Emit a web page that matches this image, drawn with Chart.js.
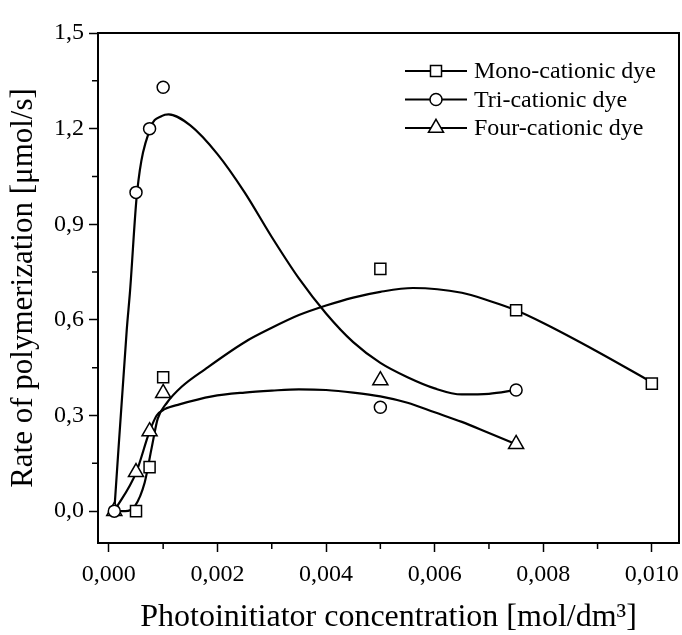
<!DOCTYPE html>
<html>
<head>
<meta charset="utf-8">
<script src="https://cdn.jsdelivr.net/npm/chart.js@4.4.1/dist/chart.umd.min.js"></script>
<style>
  html, body { margin: 0; padding: 0; background: #fff; overflow: hidden; }
  canvas { display: block; }
</style>
</head>
<body>
<canvas id="rateChart" width="682" height="635"></canvas>
<script>
// measured points
const monoX = [0.0005, 0.00075, 0.001, 0.005, 0.0075, 0.010];
const monoY = [0.0, 0.138, 0.42, 0.76, 0.63, 0.40];
const triX = [0.0001, 0.0005, 0.00075, 0.001, 0.005, 0.0075];
const triY = [0.0, 1.0, 1.2, 1.33, 0.326, 0.38];
const fourX = [0.0001, 0.0005, 0.00075, 0.001, 0.005, 0.0075];
const fourY = [0.0, 0.122, 0.25, 0.37, 0.41, 0.21];

// fitted curves
const monoFitX = [0.0001, 0.0003, 0.00048, 0.00066, 0.00079, 0.0009, 0.00107, 0.00134, 0.00177, 0.0025, 0.003, 0.0035, 0.004, 0.0045, 0.005, 0.0056, 0.0065, 0.007, 0.0075, 0.008, 0.009, 0.010];
const monoFitY = [0.0, 0.0, 0.016, 0.09, 0.20, 0.29, 0.34, 0.39, 0.445, 0.53, 0.575, 0.615, 0.645, 0.67, 0.688, 0.70, 0.685, 0.66, 0.63, 0.59, 0.50, 0.404];
const triFitX = [0.0001, 0.00033, 0.00039, 0.00052, 0.00076, 0.00098, 0.0011, 0.0015, 0.002, 0.0025, 0.003, 0.0035, 0.004, 0.0045, 0.005, 0.0055, 0.006, 0.0065, 0.007, 0.0075];
const triFitY = [0.0, 0.57, 0.69, 1.0, 1.2, 1.24, 1.245, 1.21, 1.12, 1.0, 0.86, 0.73, 0.62, 0.53, 0.465, 0.42, 0.385, 0.366, 0.368, 0.38];
const fourFitX = [0.0001, 0.0005, 0.00075, 0.00088, 0.00103, 0.0013, 0.0019, 0.0025, 0.003, 0.0035, 0.004, 0.0045, 0.005, 0.0055, 0.006, 0.0065, 0.007, 0.0075];
const fourFitY = [0.0, 0.12, 0.25, 0.30, 0.32, 0.335, 0.36, 0.372, 0.378, 0.382, 0.38, 0.372, 0.36, 0.34, 0.31, 0.28, 0.245, 0.21];

// axes
const xTicks = [0.000, 0.002, 0.004, 0.006, 0.008, 0.010];
const xMinor = [0.001, 0.003, 0.005, 0.007, 0.009];
const yTicks = [0.0, 0.3, 0.6, 0.9, 1.2, 1.5];
const yMinor = [0.15, 0.45, 0.75, 1.05, 1.35];

const seriesNames = ["Mono-cationic dye", "Tri-cationic dye", "Four-cationic dye"];

const FONT = "'Liberation Serif', 'Times New Roman', serif";

function toPoints(xs, ys) {
    return xs.map((x, i) => ({ x: x, y: ys[i] }));
}

function markerSet(label, xs, ys, style, radius) {
    return {
        label: label,
        data: toPoints(xs, ys),
        showLine: false,
        pointStyle: style,
        pointRadius: radius,
        pointBackgroundColor: "#fff",
        pointBorderColor: "#000",
        pointBorderWidth: 1.5,
        legendItem: true,
        order: 0
    };
}

function curveSet(xs, ys) {
    return {
        data: toPoints(xs, ys),
        showLine: true,
        borderColor: "#000",
        borderWidth: 2.2,
        pointRadius: 0,
        cubicInterpolationMode: "monotone",
        order: 1
    };
}

const comma = (v, d) => v.toFixed(d).replace(".", ",");

const framePlugin = {
    id: "frame",
    afterDraw(chart) {
        const ctx = chart.ctx;
        const a = chart.chartArea;
        const xs = chart.scales.x;
        const ys = chart.scales.y;
        ctx.save();
        ctx.strokeStyle = "#000";
        ctx.lineWidth = 2;
        ctx.strokeRect(a.left, a.top, a.right - a.left, a.bottom - a.top);

        // minor ticks
        ctx.lineWidth = 1.5;
        ctx.beginPath();
        xMinor.forEach(v => {
            const px = xs.getPixelForValue(v);
            ctx.moveTo(px, a.bottom);
            ctx.lineTo(px, a.bottom + 6);
        });
        yMinor.forEach(v => {
            const py = ys.getPixelForValue(v);
            ctx.moveTo(a.left, py);
            ctx.lineTo(a.left - 6, py);
        });
        ctx.stroke();

        // legend: line with marker in the middle
        let rowY = 71;
        chart.data.datasets.forEach(ds => {
            if (!ds.legendItem) return;
            ctx.strokeStyle = "#000";
            ctx.lineWidth = 2;
            ctx.beginPath();
            ctx.moveTo(405, rowY);
            ctx.lineTo(467, rowY);
            ctx.stroke();
            ctx.fillStyle = "#fff";
            ctx.lineWidth = 1.5;
            Chart.helpers.drawPoint(ctx, {
                pointStyle: ds.pointStyle,
                radius: ds.pointRadius,
                rotation: 0,
                borderWidth: 1.5
            }, 436, rowY);
            ctx.fillStyle = "#000";
            ctx.font = "24px " + FONT;
            ctx.textBaseline = "middle";
            ctx.textAlign = "left";
            ctx.fillText(ds.label, 474, rowY + 1);
            rowY += 28.5;
        });
        ctx.restore();
    }
};

new Chart(document.getElementById("rateChart"), {
    type: "scatter",
    data: {
        datasets: [
            markerSet(seriesNames[0], monoX, monoY, "rect", 7.8),
            markerSet(seriesNames[1], triX, triY, "circle", 6),
            markerSet(seriesNames[2], fourX, fourY, "triangle", 8.7),
            curveSet(monoFitX, monoFitY),
            curveSet(triFitX, triFitY),
            curveSet(fourFitX, fourFitY)
        ]
    },
    options: {
        responsive: false,
        animation: false,
        layout: { autoPadding: false, padding: { top: 33, right: 3, left: 0, bottom: 0 } },
        plugins: {
            legend: { display: false },
            tooltip: { enabled: false }
        },
        scales: {
            x: {
                type: "linear",
                min: -0.0002,
                max: 0.0105,
                afterBuildTicks: s => { s.ticks = xTicks.map(v => ({ value: v })); },
                afterFit: s => { s.height = 92; s.paddingLeft = 0; s.paddingRight = 0; },
                ticks: {
                    color: "#000",
                    padding: 8,
                    maxRotation: 0,
                    font: { family: FONT, size: 24 },
                    callback: v => comma(v, 3)
                },
                grid: {
                    drawOnChartArea: false,
                    drawTicks: true,
                    tickLength: 9,
                    tickWidth: 1.5,
                    tickColor: "#000"
                },
                border: { display: true, color: "#000", width: 2 },
                title: {
                    display: true,
                    text: "Photoinitiator concentration [mol/dm³]",
                    color: "#000",
                    font: { family: FONT, size: 32, lineHeight: 1 },
                    padding: { top: 0, bottom: 1 }
                }
            },
            y: {
                type: "linear",
                min: -0.1,
                max: 1.5,
                afterBuildTicks: s => { s.ticks = yTicks.map(v => ({ value: v })); },
                afterFit: s => { s.width = 98; s.paddingTop = 0; s.paddingBottom = 0; },
                ticks: {
                    color: "#000",
                    padding: 5,
                    font: { family: FONT, size: 24 },
                    callback: v => comma(v, 1)
                },
                grid: {
                    drawOnChartArea: false,
                    drawTicks: true,
                    tickLength: 9,
                    tickWidth: 1.5,
                    tickColor: "#000"
                },
                border: { display: true, color: "#000", width: 2 },
                title: {
                    display: true,
                    text: "Rate of polymerization [μmol/s]",
                    color: "#000",
                    font: { family: FONT, size: 31, lineHeight: 1 },
                    padding: { top: 8, bottom: 0 }
                }
            }
        }
    },
    plugins: [framePlugin]
});
</script>
</body>
</html>
